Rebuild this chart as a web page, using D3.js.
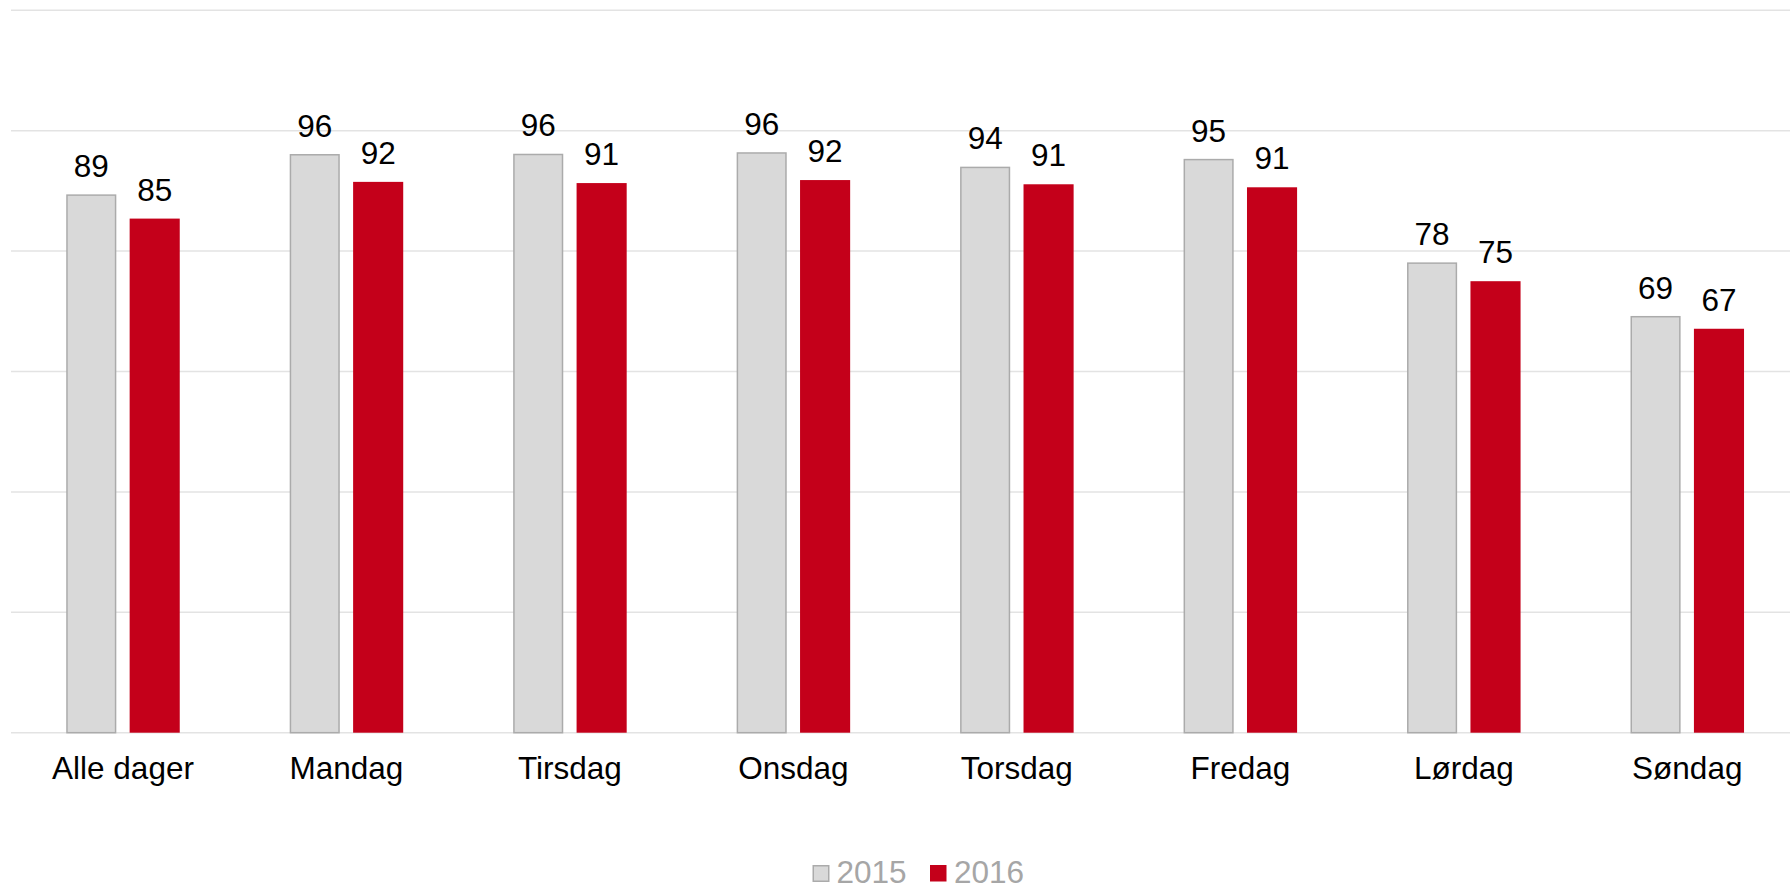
<!DOCTYPE html>
<html>
<head>
<meta charset="utf-8">
<script src="https://cdn.jsdelivr.net/npm/d3@7"></script>
<style>
  body { margin: 0; background: #fff; }
  text { font-family: "Liberation Sans", Arial, sans-serif; }
</style>
</head>
<body>
<div id="chart"></div>
<script>
// Chart data
var categories = ["Alle dager", "Mandag", "Tirsdag", "Onsdag", "Torsdag", "Fredag", "Lørdag", "Søndag"];
var seriesNames = ["2015", "2016"];
var values2015 = [89.3, 96.0, 96.05, 96.3, 93.9, 95.2, 78.0, 69.1];
var values2016 = [85.4, 91.5, 91.3, 91.8, 91.1, 90.6, 75.0, 67.1];
var labels2015 = [89, 96, 96, 96, 94, 95, 78, 69];
var labels2016 = [85, 92, 91, 92, 91, 91, 75, 67];
var yTicks = [0, 20, 40, 60, 80, 100, 120];

var colors = { "2015": "#d9d9d9", "2016": "#c4001a" };
var strokes = { "2015": "#ababab", "2016": "#c4001a" };

// Chart params
var svgWidth = 1790;
var svgHeight = 888;
var fontSize = "31.5px";

var svg = d3.select("#chart")
  .append("svg")
  .attr("width", svgWidth)
  .attr("height", svgHeight);

// Scales
var x0 = d3.scaleBand()
  .domain(categories)
  .range([11.25, 1799]);

var bw = x0.bandwidth();

var x1 = d3.scaleBand()
  .domain(seriesNames)
  .range([bw * 0.246, bw * 0.754])
  .paddingInner(0.21);

var y = d3.scaleLinear()
  .domain([0, 120])
  .range([732.7, 10.3]);

// Gridlines
svg.append("g")
  .selectAll("line")
  .data(yTicks)
  .enter()
  .append("line")
  .attr("x1", 11)
  .attr("x2", svgWidth)
  .attr("y1", d => y(d))
  .attr("y2", d => y(d))
  .attr("stroke", "#e3e3e3")
  .attr("stroke-width", 1.5);

// Build table for bars
var rows = categories.map(function(c, i) {
  return [
    { cat: c, key: "2015", value: values2015[i], label: labels2015[i] },
    { cat: c, key: "2016", value: values2016[i], label: labels2016[i] }
  ];
});

var groups = svg.append("g")
  .selectAll("g")
  .data(rows)
  .enter()
  .append("g")
  .attr("transform", (d, i) => `translate(${x0(categories[i])},0)`);

groups.selectAll("rect")
  .data(d => d)
  .enter()
  .append("rect")
  .attr("x", d => x1(d.key) + (d.key === "2015" ? 0.75 : 0))
  .attr("width", d => x1.bandwidth() - (d.key === "2015" ? 1.5 : 0))
  .attr("y", d => y(d.value))
  .attr("height", d => y(0) - y(d.value))
  .attr("fill", d => colors[d.key])
  .attr("stroke", d => d.key === "2015" ? strokes[d.key] : "none")
  .attr("stroke-width", 1.5);

// Value labels
groups.selectAll("text")
  .data(d => d)
  .enter()
  .append("text")
  .attr("x", d => x1(d.key) + x1.bandwidth() / 2)
  .attr("y", d => y(d.value) - 18)
  .attr("text-anchor", "middle")
  .attr("font-size", fontSize)
  .attr("fill", "#000")
  .text(d => d.label);

// Category axis labels
svg.append("g")
  .selectAll("text")
  .data(categories)
  .enter()
  .append("text")
  .attr("x", d => x0(d) + bw / 2)
  .attr("y", 779)
  .attr("text-anchor", "middle")
  .attr("font-size", fontSize)
  .attr("fill", "#000")
  .text(d => d);

// Legend
var legendItems = [
  { key: "2015", x: 812.5 },
  { key: "2016", x: 930 }
];

var legend = svg.append("g")
  .selectAll("g")
  .data(legendItems)
  .enter()
  .append("g")
  .attr("transform", d => `translate(${d.x},865)`);

legend.append("rect")
  .attr("x", d => d.key === "2015" ? 0.75 : 0)
  .attr("y", d => d.key === "2015" ? 0.75 : 0)
  .attr("width", d => d.key === "2015" ? 15.5 : 16.5)
  .attr("height", d => d.key === "2015" ? 15.5 : 16.5)
  .attr("fill", d => colors[d.key])
  .attr("stroke", d => d.key === "2015" ? strokes[d.key] : "none")
  .attr("stroke-width", 1.5);

legend.append("text")
  .attr("x", 24)
  .attr("y", 18.3)
  .attr("font-size", fontSize)
  .attr("fill", "#a6a6a6")
  .text(d => d.key);
</script>
</body>
</html>
